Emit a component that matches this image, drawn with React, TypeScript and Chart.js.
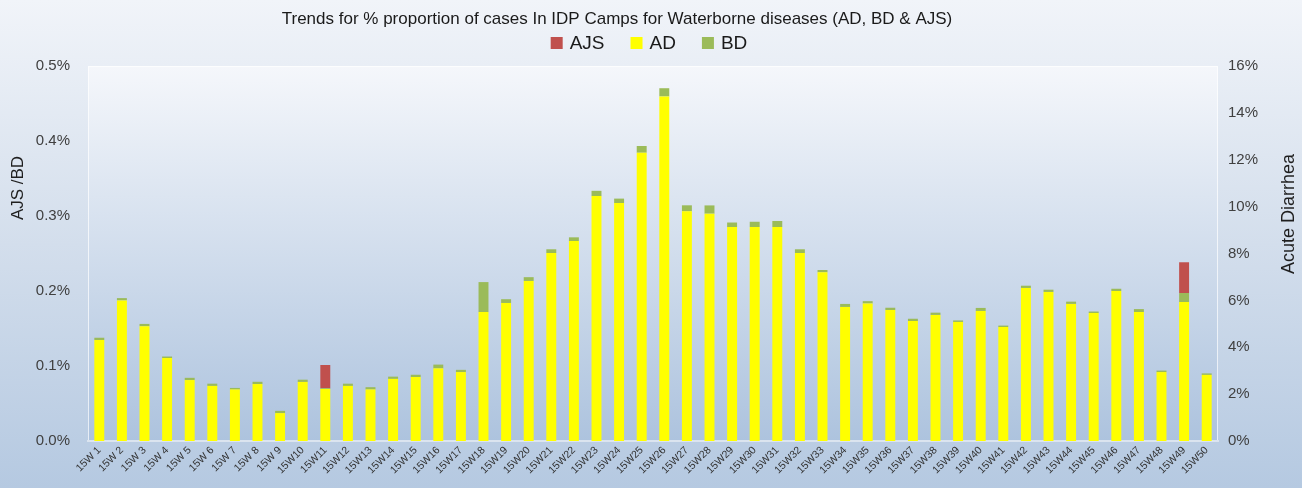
import React, { useEffect, useRef } from "react";
import { Chart, registerables } from "chart.js";

Chart.register(...registerables);

const WEEKS = [
  "15W 1", "15W 2", "15W 3", "15W 4", "15W 5", "15W 6", "15W 7", "15W 8", "15W 9", "15W10",
  "15W11", "15W12", "15W13", "15W14", "15W15", "15W16", "15W17", "15W18", "15W19", "15W20",
  "15W21", "15W22", "15W23", "15W24", "15W25", "15W26", "15W27", "15W28", "15W29", "15W30",
  "15W31", "15W32", "15W33", "15W34", "15W35", "15W36", "15W37", "15W38", "15W39", "15W40",
  "15W41", "15W42", "15W43", "15W44", "15W45", "15W46", "15W47", "15W48", "15W49", "15W50",
];

// Acute Diarrhea, % (right axis)
const AD_PCT = [
  4.31, 6.0, 4.9, 3.54, 2.6, 2.35, 2.2, 2.43, 1.19, 2.52,
  2.22, 2.35, 2.2, 2.65, 2.73, 3.1, 2.94, 5.5, 5.89, 6.83,
  8.02, 8.53, 10.45, 10.15, 12.3, 14.7, 9.8, 9.7, 9.13, 9.13,
  9.13, 8.02, 7.2, 5.72, 5.87, 5.59, 5.12, 5.38, 5.08, 5.55,
  4.86, 6.53, 6.36, 5.85, 5.46, 6.4, 5.5, 2.94, 5.93, 2.82,
];

// Bloody Diarrhea, % (left axis)
const BD_PCT = [
  0.003, 0.003, 0.003, 0.002, 0.003, 0.003, 0.002, 0.003, 0.003, 0.003,
  0.001, 0.003, 0.003, 0.003, 0.003, 0.005, 0.003, 0.04, 0.005, 0.005,
  0.005, 0.005, 0.007, 0.006, 0.009, 0.011, 0.008, 0.011, 0.006, 0.007,
  0.008, 0.005, 0.003, 0.004, 0.003, 0.003, 0.003, 0.003, 0.002, 0.004,
  0.002, 0.003, 0.003, 0.003, 0.002, 0.003, 0.004, 0.002, 0.012, 0.002,
];

// Acute Jaundice Syndrome, % (left axis)
const AJS_PCT = [
  0, 0, 0, 0, 0, 0, 0, 0, 0, 0,
  0.031, 0, 0, 0, 0, 0, 0, 0, 0, 0,
  0, 0, 0, 0, 0, 0, 0, 0, 0, 0,
  0, 0, 0, 0, 0, 0, 0, 0, 0, 0,
  0, 0, 0, 0, 0, 0, 0, 0, 0.041, 0,
];

const LEFT_MAX = 0.5;
const LEFT_STEP = 0.1;
const RIGHT_MAX = 16;
const RIGHT_STEP = 2;
const LEGEND_ORDER = ["AJS", "AD", "BD"];

const TITLE = "Trends for % proportion of cases In IDP Camps for Waterborne diseases (AD, BD & AJS)";
const LEFT_TITLE = "AJS /BD";
const RIGHT_TITLE = "Acute Diarrhea";
const FONT = '"Liberation Sans", Arial, sans-serif';

const COLORS = { AD: "#ffff00", BD: "#9bbb59", AJS: "#c0504d" };

// conversion of left-axis units into right-axis units so the series stack visually
const RATIO = RIGHT_MAX / LEFT_MAX;

const decor = {
  id: "decor",
  beforeDraw(chart: any) {
    const { ctx, width, height, chartArea: a } = chart;
    ctx.save();
    let g = ctx.createLinearGradient(0, 0, 0, height);
    g.addColorStop(0, "#f1f4f9");
    g.addColorStop(0.5, "#d3deec");
    g.addColorStop(1, "#b5c9e1");
    ctx.fillStyle = g;
    ctx.fillRect(0, 0, width, height);
    g = ctx.createLinearGradient(0, a.top, 0, a.bottom);
    g.addColorStop(0, "#f5f7fb");
    g.addColorStop(1, "#adc3de");
    ctx.fillStyle = g;
    ctx.fillRect(a.left, a.top, a.right - a.left, a.bottom - a.top);
    ctx.strokeStyle = "rgba(255,255,255,0.7)";
    ctx.lineWidth = 1;
    ctx.strokeRect(a.left + 0.5, a.top + 0.5, a.right - a.left - 1, a.bottom - a.top - 1);
    ctx.restore();
  },
  afterDraw(chart: any) {
    const { ctx } = chart;
    ctx.save();
    ctx.fillStyle = "#1a1a1a";
    ctx.font = `17px ${FONT}`;
    ctx.textAlign = "center";
    ctx.textBaseline = "middle";
    ctx.fillText(TITLE, 617, 19);

    // axis titles
    ctx.fillStyle = "#1f1f1f";
    ctx.font = `17px ${FONT}`;
    ctx.save();
    ctx.translate(18, 188);
    ctx.rotate(-Math.PI / 2);
    ctx.fillText(LEFT_TITLE, 0, 0);
    ctx.restore();
    ctx.font = `18px ${FONT}`;
    ctx.save();
    ctx.translate(1289, 214);
    ctx.rotate(-Math.PI / 2);
    ctx.fillText(RIGHT_TITLE, 0, 0);
    ctx.restore();

    const items = LEGEND_ORDER.map((l) => chart.data.datasets.find((d: any) => d.label === l));
    ctx.font = `19px ${FONT}`;
    const box = 12;
    const gapText = 7;
    const gapItem = 26;
    const widths = items.map((d: any) => box + gapText + ctx.measureText(d.label).width);
    const total = widths.reduce((s: number, w: number) => s + w, 0) + gapItem * (items.length - 1);
    let x = 649 - total / 2;
    const y = 43;
    items.forEach((d: any, i: number) => {
      ctx.fillStyle = d.backgroundColor;
      ctx.fillRect(x, y - box / 2, box, box);
      ctx.fillStyle = "#1a1a1a";
      ctx.textAlign = "left";
      ctx.fillText(d.label, x + box + gapText, y + 1);
      x += widths[i] + gapItem;
    });
    ctx.restore();
  },
};

export default function App() {
  const ref = useRef<HTMLCanvasElement | null>(null);

  useEffect(() => {
    if (!ref.current) return;
    const chart = new Chart(ref.current, {
      type: "bar",
      data: {
        labels: WEEKS,
        datasets: [
          {
            label: "AD",
            data: AD_PCT,
            backgroundColor: COLORS.AD,
            yAxisID: "y1",
            stack: "s",
          },
          {
            label: "BD",
            data: BD_PCT.map((v) => v * RATIO),
            backgroundColor: COLORS.BD,
            yAxisID: "y1",
            stack: "s",
          },
          {
            label: "AJS",
            data: AJS_PCT.map((v) => v * RATIO),
            backgroundColor: COLORS.AJS,
            yAxisID: "y1",
            stack: "s",
          },
        ],
      },
      options: {
        animation: false,
        responsive: true,
        maintainAspectRatio: false,
        datasets: { bar: { categoryPercentage: 1, barPercentage: 0.44 } },
        layout: { padding: { top: 66, left: 0, right: 0, bottom: 0 } },
        plugins: {
          legend: { display: false },
          title: { display: false },
          tooltip: { enabled: false },
        },
        scales: {
          x: {
            stacked: true,
            grid: { display: false, drawTicks: false },
            border: { display: true, color: "#dbe4ef", width: 2 },
            ticks: {
              autoSkip: false,
              maxRotation: 45,
              minRotation: 45,
              padding: 3,
              color: "#333333",
              font: { family: FONT, size: 10.5 },
            },
            afterFit: (s: any) => {
              s.height = 47;
            },
          },
          y: {
            position: "left",
            min: 0,
            max: LEFT_MAX,
            grid: { display: false, drawTicks: false },
            border: { display: false },
            ticks: {
              stepSize: LEFT_STEP,
              padding: 18,
              color: "#404040",
              font: { family: FONT, size: 15 },
              callback: (v: any) => Number(v).toFixed(1) + "%",
            },
            afterFit: (s: any) => {
              s.width = 88;
            },
          },
          y1: {
            position: "right",
            stacked: true,
            min: 0,
            max: RIGHT_MAX,
            grid: { display: false, drawTicks: false },
            border: { display: false },
            ticks: {
              stepSize: RIGHT_STEP,
              padding: 10,
              color: "#404040",
              font: { family: FONT, size: 15 },
              callback: (v: any) => Number(v).toFixed(0) + "%",
            },
            afterFit: (s: any) => {
              s.width = 84;
            },
          },
        },
      },
      plugins: [decor],
    });
    return () => chart.destroy();
  }, []);

  return (
    <div style={{ position: "fixed", left: 0, top: 0, width: 1302, height: 488 }}>
      <canvas ref={ref} />
    </div>
  );
}
